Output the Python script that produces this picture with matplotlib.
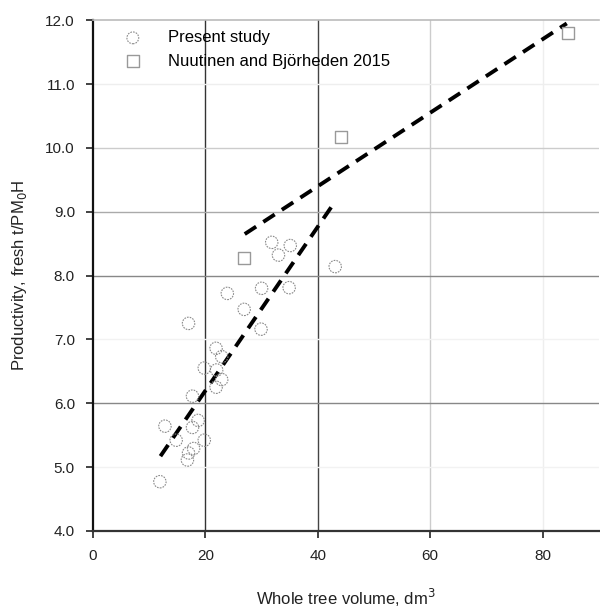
import matplotlib
matplotlib.use("Agg")
import matplotlib.pyplot as plt
import numpy as np

plt.rcParams['font.family'] = ['Liberation Sans', 'DejaVu Sans']

# Present study (circles)
study_x = [11.9, 12.8, 14.8, 16.8, 17.0, 17.9, 19.8, 17.7, 18.7, 17.7, 21.9, 22.9,
           22.0, 19.8, 22.9, 21.9, 17.0, 26.9, 29.9, 23.9, 30.0, 34.9, 31.8, 35.1,
           33.0, 43.1]
study_y = [4.77, 5.64, 5.42, 5.11, 5.22, 5.29, 5.42, 5.62, 5.73, 6.11, 6.25, 6.37,
           6.52, 6.55, 6.73, 6.86, 7.25, 7.47, 7.16, 7.72, 7.80, 7.81, 8.52, 8.47,
           8.32, 8.14]

# Nuutinen and Björheden 2015 (squares)
ref_x = [26.9, 44.1, 84.5]
ref_y = [8.28, 10.17, 11.80]

# Trend lines
fit1_x = [12.0, 43.0]
fit1_y = [5.17, 9.15]
fit2_x = [27.0, 84.3]
fit2_y = [8.65, 11.95]

xticks = [0, 20, 40, 60, 80]
yticks = [4.0, 5.0, 6.0, 7.0, 8.0, 9.0, 10.0, 11.0, 12.0]

fig = plt.figure(figsize=(6.0, 6.13), dpi=100)
ax = fig.add_axes([0.155, 0.134, 0.843, 0.833])
ax.set_xlim(0, 90)
ax.set_ylim(4.0, 12.0)

vcol = {20: '#333333', 40: '#444444', 60: '#cccccc', 80: '#eeeeee'}
for xv in [20, 40, 60, 80]:
    ax.axvline(xv, color=vcol[xv], lw=1.0, zorder=0)
hcol = {5.0: '#f2f2f2', 6.0: '#888888', 7.0: '#f2f2f2', 8.0: '#888888',
        9.0: '#aaaaaa', 10.0: '#cccccc', 11.0: '#eeeeee'}
for yv, c in hcol.items():
    ax.axhline(yv, color=c, lw=1.0, zorder=0)

ax.plot(fit1_x, fit1_y, color='black', lw=2.8, dashes=(3.5, 2.2), zorder=3)
ax.plot(fit2_x, fit2_y, color='black', lw=2.8, dashes=(3.5, 2.2), zorder=3)

ax.scatter(study_x, study_y, s=80, facecolors='none', edgecolors='#8a8a8a',
           linewidths=0.8, linestyles=(0, (1.5, 1)), zorder=4, label='Present study')
ax.scatter(ref_x, ref_y, s=75, marker='s', facecolors='none', edgecolors='#999999',
           linewidths=1.0, zorder=4, label='Nuutinen and Björheden 2015')

ax.set_xticks(xticks)
ax.set_xticklabels([str(t) for t in xticks])
ax.set_yticks(yticks)
ax.set_yticklabels([f'{t:.1f}' for t in yticks])
ax.tick_params(axis='both', labelsize=11, colors='#222222', direction='out',
               length=5, width=1.2, pad=8)

ax.spines['right'].set_visible(False)
ax.spines['top'].set_color('#bbbbbb')
ax.spines['top'].set_linewidth(1.2)
ax.spines['left'].set_color('#111111')
ax.spines['left'].set_linewidth(1.6)
ax.spines['bottom'].set_color('#333333')
ax.spines['bottom'].set_linewidth(1.6)

ax.set_xlabel('Whole tree volume, dm$^3$', fontsize=12, labelpad=17, color='#222222')
ax.set_ylabel('Productivity, fresh t/PM$_0$H', fontsize=12, labelpad=12, color='#222222')

leg = ax.legend(loc='upper left', bbox_to_anchor=(0.026, 1.0), frameon=False,
                fontsize=12, handletextpad=1.1, borderaxespad=0.2, labelspacing=0.5,
                markerscale=0.95)

fig.savefig('out.png', dpi=100, facecolor='white')
